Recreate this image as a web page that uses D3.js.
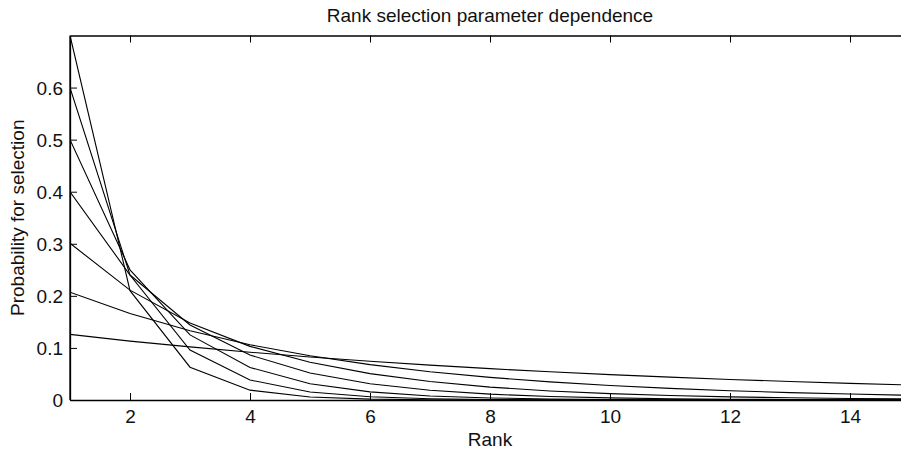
<!DOCTYPE html>
<html>
<head>
<meta charset="utf-8">
<script src="https://cdn.jsdelivr.net/npm/d3@7"></script>
<style>
  body { margin: 0; background: #fff; }
  svg { display: block; font-family: "Liberation Sans", Arial, Helvetica, sans-serif; }
</style>
</head>
<body>
<div id="chart"></div>
<script>
// ranks on the x axis
var ranks = [1, 2, 3, 4, 5, 6, 7, 8, 9, 10, 11, 12, 13, 14, 15];

// selection probability per rank, one array per parameter value
var p07 = [0.700, 0.210, 0.063, 0.0189, 0.0057, 0.0017, 0.0005, 0.00015, 0.00005, 0.00001, 0, 0, 0, 0, 0];
var p06 = [0.600, 0.240, 0.096, 0.0384, 0.0154, 0.0061, 0.0025, 0.0010, 0.0004, 0.00016, 0.00006, 0.00003, 0.00001, 0, 0];
var p05 = [0.500, 0.250, 0.125, 0.0625, 0.0313, 0.0156, 0.0078, 0.0039, 0.0020, 0.0010, 0.0005, 0.0002, 0.0001, 0.00006, 0.00003];
var p04 = [0.400, 0.240, 0.144, 0.0864, 0.0519, 0.0311, 0.0187, 0.0112, 0.0067, 0.0040, 0.0024, 0.0015, 0.0009, 0.0005, 0.0003];
var p03 = [0.301, 0.211, 0.148, 0.103, 0.0724, 0.0507, 0.0355, 0.0248, 0.0174, 0.0122, 0.0085, 0.0060, 0.0042, 0.0029, 0.0020];
var p02 = [0.207, 0.166, 0.133, 0.106, 0.0849, 0.0679, 0.0543, 0.0435, 0.0348, 0.0278, 0.0223, 0.0178, 0.0142, 0.0114, 0.0091];
var p01 = [0.126, 0.113, 0.102, 0.0918, 0.0826, 0.0744, 0.0669, 0.0602, 0.0542, 0.0488, 0.0439, 0.0395, 0.0356, 0.0320, 0.0288];

var series = [p07, p06, p05, p04, p03, p02, p01];

var xTicks = [2, 4, 6, 8, 10, 12, 14];
var yTicks = [0, 0.1, 0.2, 0.3, 0.4, 0.5, 0.6];

var W = 901, H = 451;
// axes box (right side runs past the picture edge)
var boxLeft = 70, boxRight = 910, boxTop = 35.5, boxBottom = 400;

var svg = d3.select("#chart")
    .append("svg")
    .attr("width", W)
    .attr("height", H);

var x = d3.scaleLinear()
    .domain([1, 15])
    .range([boxLeft, boxRight]);

var y = d3.scaleLinear()
    .domain([0, 0.7])
    .range([boxBottom, boxTop]);

svg.append("clipPath")
    .attr("id", "clip")
    .append("rect")
    .attr("x", boxLeft)
    .attr("y", boxTop)
    .attr("width", boxRight - boxLeft)
    .attr("height", boxBottom - boxTop);

// curves
var line = d3.line()
    .x(function (d, i) { return x(ranks[i]); })
    .y(function (d) { return y(d); });

svg.append("g")
    .attr("clip-path", "url(#clip)")
    .selectAll("path")
    .data(series)
    .enter()
    .append("path")
    .attr("d", line)
    .attr("fill", "none")
    .attr("stroke", "#000")
    .attr("stroke-width", 1.1);

// bottom axis, ticks pointing in
var xAxis = svg.append("g")
    .attr("transform", "translate(0," + boxBottom + ")")
    .call(d3.axisBottom(x).tickValues(xTicks).tickSizeInner(-7).tickSizeOuter(0));

// top border with ticks, no labels
var xTop = svg.append("g")
    .attr("transform", "translate(0," + boxTop + ")")
    .call(d3.axisTop(x).tickValues(xTicks).tickSizeInner(-7).tickSizeOuter(0).tickFormat(""));

// left axis
var yAxis = svg.append("g")
    .attr("transform", "translate(" + boxLeft + ",0)")
    .call(d3.axisLeft(y).tickValues(yTicks).tickSizeInner(-7).tickSizeOuter(0)
        .tickFormat(function (d) { return d === 0 ? "0" : d3.format(".1f")(d); }));

svg.append("line")
    .attr("x1", boxLeft).attr("x2", boxLeft)
    .attr("y1", boxTop).attr("y2", boxBottom)
    .attr("stroke", "#000").attr("stroke-width", 1.3);

[xAxis, xTop, yAxis].forEach(function (g) {
    g.select(".domain").attr("stroke", "#000").attr("stroke-width", 1.3);
    g.selectAll(".tick line").attr("stroke", "#000");
    g.selectAll("text")
        .attr("fill", "#111")
        .style("font-size", "19px")
        .style("font-family", "'Liberation Sans', Arial, sans-serif");
});
xAxis.selectAll("text").attr("y", 23).attr("dy", 0);
yAxis.selectAll("text").attr("x", -7).attr("dy", "0.35em");

// title and labels
svg.append("text")
    .attr("x", (boxLeft + boxRight) / 2)
    .attr("y", 22)
    .attr("text-anchor", "middle")
    .style("font-size", "19px")
    .attr("fill", "#111")
    .text("Rank selection parameter dependence");

svg.append("text")
    .attr("x", (boxLeft + boxRight) / 2)
    .attr("y", 446)
    .attr("text-anchor", "middle")
    .style("font-size", "19px")
    .attr("fill", "#111")
    .text("Rank");

svg.append("text")
    .attr("transform", "translate(24," + (boxTop + boxBottom) / 2 + ") rotate(-90)")
    .attr("text-anchor", "middle")
    .style("font-size", "19px")
    .attr("fill", "#111")
    .text("Probability for selection");
</script>
</body>
</html>
